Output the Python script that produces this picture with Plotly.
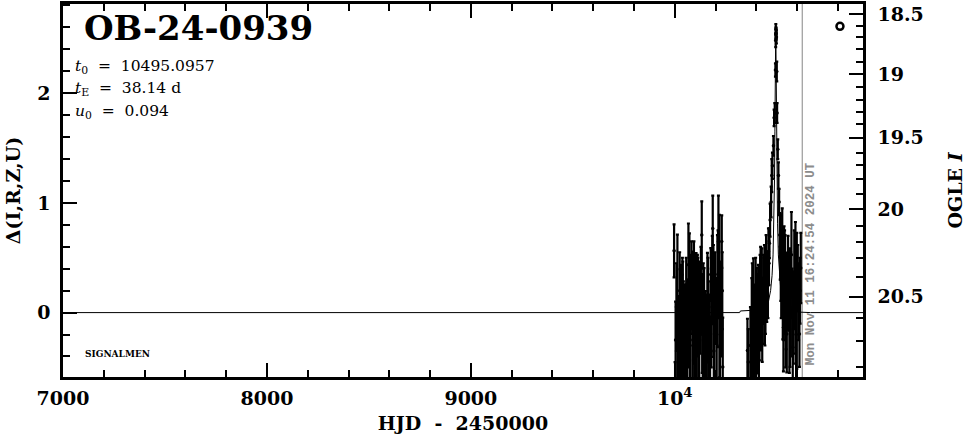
import plotly.graph_objects as go

# ---------------- data ----------------
event_name = "OB-24-0939"
t0_text = "10495.0957"
tE_text = "38.14 d"
u0_text = "0.094"
now_hjd = 10625.2
now_text = "Mon Nov 11 16:24:54 2024 UT"

# observations: HJD-2450000, Delta flux, error  (season 2023)
obs1_t = [9996.6, 10001.5, 10004.0, 10008.0, 10012.9, 10017.0, 10021.0, 10024.0, 10026.0,
          10029.3, 10031.0, 10033.5, 10035.8, 10037.5, 10039.1, 10042.3, 10045.6, 10048.0,
          10050.5, 10053.8, 10056.0, 10058.7, 10062.0, 10066.9, 10069.0, 10071.8, 10075.0,
          10078.3, 10082.0, 10086.5, 10088.5, 10091.4, 10094.0, 10096.3, 10099.6, 10101.5,
          10104.5, 10107.5, 10111.0, 10113.5, 10116.0, 10120.0, 10124.1, 10128.0, 10132.3,
          10134.5, 10137.2, 10140.0, 10143.7, 10147.0, 10150.3, 10153.0, 10156.8, 10160.1,
          10162.5, 10165.0, 10167.5, 10169.9, 10173.1, 10176.4, 10179.0, 10181.3, 10184.0,
          10186.2, 10189.5, 10191.5, 10194.4, 10197.0, 10202.6, 10205.5, 10209.1, 10212.0,
          10214.0, 10218.9, 10222.0, 10225.5, 10228.0, 10230.4, 10233.0, 10235.3]
obs1_d = [0.563, -0.735, -0.25, 0.05, -0.06, -0.3, -0.48, 0.2, -0.075,
          -0.346, 0.106, -0.4, -0.195, 0.05, 0.166, -0.226, -0.346, -0.15,
          -0.045, -0.195, 0.1, -0.375, -0.2, 0.437, -0.1, 0.256, -0.3,
          0.166, 0.25, -0.075, -0.25, -0.045, 0.3, 0.015, -0.316, 0.0,
          0.166, -0.2, 0.286, 0.05, -0.195, -0.3, 0.045, 0.2, 0.707,
          -0.1, -0.195, 0.1, -0.105, -0.375, -0.075, -0.35, -0.226, 0.045,
          0.1, -0.195, -0.3, -0.135, -0.436, 0.347, -0.05, 0.241, 0.3,
          0.767, 0.106, -0.35, -0.195, 0.15, 0.015, -0.2, 0.196, 0.35,
          0.647, 0.15, -0.3, 0.166, 0.0, 0.647, 0.2, -0.496]
obs1_e = [0.241, 0.284, 0.35, 0.4, 0.77, 0.45, 0.2, 0.35, 0.47,
          0.4, 0.33, 0.3, 0.54, 0.45, 0.3, 0.51, 0.44, 0.35,
          0.3, 0.45, 0.4, 0.36, 0.5, 0.375, 0.4, 0.466, 0.35,
          0.36, 0.4, 0.63, 0.4, 0.39, 0.35, 0.48, 0.35, 0.5,
          0.376, 0.4, 0.24, 0.45, 0.42, 0.4, 0.42, 0.4, 0.307,
          0.45, 0.42, 0.35, 0.51, 0.35, 0.27, 0.4, 0.39, 0.5,
          0.4, 0.48, 0.35, 0.3, 0.4, 0.24, 0.45, 0.346, 0.4,
          0.3, 0.51, 0.4, 0.57, 0.4, 0.3, 0.4, 0.51, 0.4,
          0.42, 0.74, 0.45, 0.3, 0.4, 0.24, 0.35, 0.45]

# season 2024
obs2_t = [10356.3, 10360.5, 10371.0, 10377.5, 10380.0, 10382.4, 10385.7, 10388.0, 10390.6,
          10393.9, 10396.5, 10398.8, 10402.1, 10404.5, 10407.0, 10410.2, 10412.5, 10415.1,
          10418.4, 10420.8, 10423.3, 10426.6, 10428.9, 10431.5, 10434.8, 10437.0, 10439.7,
          10442.0, 10444.6, 10447.8, 10449.5, 10451.1, 10454.4, 10456.8, 10459.3, 10462.0,
          10464.2, 10467.5, 10472.4, 10475.6, 10478.9, 10483.8, 10487.1, 10490.3, 10493.6,
          10494.8, 10495.5, 10496.2, 10496.9, 10498.5, 10500.2, 10501.8, 10505.1, 10508.3,
          10511.6, 10514.9, 10517.0, 10519.8, 10522.0, 10524.7, 10527.0, 10529.6, 10532.8,
          10534.5, 10536.1, 10538.5, 10541.0, 10543.5, 10545.9, 10549.2, 10552.5, 10555.5,
          10559.0, 10562.0, 10565.5, 10568.5, 10572.1, 10575.5, 10578.6, 10581.9, 10586.0,
          10591.7, 10595.0, 10598.3, 10603.2, 10607.0, 10611.3, 10614.5, 10617.9]
obs2_d = [-0.346, -0.45, -0.3, -0.135, 0.05, -0.375, 0.045, -0.25, -0.195,
          -0.12, 0.15, -0.316, -0.075, -0.05, -0.195, 0.045, -0.3, -0.135,
          0.166, 0.3, -0.015, 0.196, -0.1, 0.015, 0.316, 0.2, 0.256,
          0.0, 0.106, 0.437, 0.3, 0.166, 0.406, 0.25, 0.557, 0.45,
          0.632, 0.843, 1.008, 1.249, 1.339, 1.52, 1.775, 1.82, 2.211,
          2.48, 2.58, 2.55, 2.542, 2.513, 2.197, 1.82, 1.489, 1.249,
          1.008, 0.707, 0.6, 0.496, 0.3, 0.527, 0.65, 0.256, -0.135,
          0.1, 0.527, 0.35, 0.256, -0.1, 0.106, -0.195, 0.166, 0.35,
          0.106, -0.15, 0.045, 0.25, 0.527, 0.0, -0.316, -0.045, 0.3,
          0.226, -0.2, 0.106, 0.316, 0.1, -0.195, 0.2, 0.406]
obs2_e = [0.29, 0.3, 0.35, 0.45, 0.4, 0.35, 0.45, 0.35, 0.4,
          0.376, 0.35, 0.3, 0.48, 0.4, 0.35, 0.39, 0.3, 0.3,
          0.36, 0.3, 0.33, 0.39, 0.35, 0.3, 0.21, 0.3, 0.36,
          0.3, 0.3, 0.27, 0.25, 0.25, 0.15, 0.3, 0.21, 0.2,
          0.135, 0.15, 0.14, 0.15, 0.12, 0.09, 0.075, 0.09, 0.06,
          0.06, 0.05, 0.05, 0.05, 0.06, 0.09, 0.09, 0.09, 0.12,
          0.12, 0.2, 0.3, 0.39, 0.35, 0.226, 0.3, 0.5, 0.4,
          0.35, 0.26, 0.4, 0.45, 0.4, 0.44, 0.35, 0.32, 0.35,
          0.27, 0.4, 0.54, 0.3, 0.39, 0.4, 0.35, 0.42, 0.45,
          0.6, 0.4, 0.62, 0.3, 0.35, 0.3, 0.3, 0.32]

obs_t = obs1_t + obs2_t
obs_d = obs1_d + obs2_d
obs_e = obs1_e + obs2_e

# model curve
model_t = [7000, 10318, 10322, 10360, 10385, 10420, 10445, 10460, 10470, 10477, 10482,
           10486, 10489, 10491, 10493, 10495.1, 10497, 10499, 10501, 10504, 10508,
           10513, 10520, 10530, 10545, 10570, 10605, 10665, 10923]
model_d = [0.0, 0.0, 0.015, 0.018, 0.02, 0.025, 0.05, 0.108, 0.201, 0.337, 0.526,
           0.815, 1.216, 1.654, 2.239, 2.6, 2.239, 1.654, 1.216, 0.815, 0.526,
           0.337, 0.201, 0.108, 0.05, 0.017, 0.005, 0.0, 0.0]

# open-circle symbol in upper right
sym_t = [10810]
sym_d = [2.61]

# axes
x_range = [7000, 10923]
y_range = [-0.587, 2.813]
x_tickvals = [7000, 8000, 9000, 10000]
x_ticktext = ["7000", "8000", "9000", "10<sup>4</sup>"]
y_tickvals = [0, 1, 2]
y_ticktext = ["0", "1", "2"]
ogle_major_mag = ["18.5", "19", "19.5", "20", "20.5"]
ogle_major_delta = [2.723, 2.172, 1.595, 0.945, 0.144]
ogle_minor_delta = [2.617, 2.513, 2.401, 2.287, 2.061, 1.940, 1.829, 1.715, 1.459,
                    1.342, 1.216, 1.083, 0.792, 0.648, 0.494, 0.322, -0.045, -0.262, -0.496]

# ---------------- figure ----------------
SERIF = "DejaVu Serif"
tickfont = dict(family=SERIF, size=19, color="black", weight="bold")
titlefont = dict(family=SERIF, size=19, color="black", weight="bold")

fig = go.Figure()

fig.add_trace(go.Scatter(
    x=model_t, y=model_d, mode="lines",
    line=dict(color="black", width=1), hoverinfo="skip", showlegend=False))

fig.add_trace(go.Scatter(
    x=obs_t, y=obs_d, mode="markers",
    marker=dict(color="black", size=3.5),
    error_y=dict(type="data", array=obs_e, visible=True, color="black",
                 thickness=2.2, width=1.5),
    showlegend=False))

fig.add_trace(go.Scatter(
    x=sym_t, y=sym_d, mode="markers",
    marker=dict(symbol="circle-open", size=7, color="black", line=dict(width=2.5)),
    showlegend=False))

# invisible traces to activate overlay axes
fig.add_trace(go.Scatter(x=[x_range[0]], y=[y_range[0]], yaxis="y2", mode="markers",
                         marker=dict(opacity=0), showlegend=False, hoverinfo="skip"))
fig.add_trace(go.Scatter(x=[x_range[0]], y=[y_range[0]], yaxis="y3", mode="markers",
                         marker=dict(opacity=0), showlegend=False, hoverinfo="skip"))

fig.add_shape(type="line", xref="x", yref="paper", x0=now_hjd, x1=now_hjd, y0=0, y1=1,
              line=dict(color="#9a9a9a", width=1.2), layer="below")

line_w = 2.5
fig.update_layout(
    width=966, height=434,
    margin=dict(l=63, r=103, t=1, b=57),
    paper_bgcolor="white", plot_bgcolor="white",
    showlegend=False,
    xaxis=dict(
        range=x_range, tickmode="array", tickvals=x_tickvals, ticktext=x_ticktext,
        ticks="inside", ticklen=14, tickwidth=2, tickcolor="black",
        minor=dict(tickmode="linear", tick0=7000, dtick=200, ticks="inside",
                   ticklen=7, tickwidth=2, tickcolor="black"),
        showline=True, linewidth=line_w, linecolor="black", mirror="ticks",
        showgrid=False, zeroline=False, tickfont=tickfont, ticklabelstandoff=2,
        title=dict(text="HJD  -  2450000", font=titlefont, standoff=11),
    ),
    yaxis=dict(
        range=y_range, tickmode="array", tickvals=y_tickvals, ticktext=y_ticktext,
        ticks="inside", ticklen=14, tickwidth=2, tickcolor="black",
        minor=dict(tickmode="linear", tick0=0, dtick=0.2, ticks="inside",
                   ticklen=7, tickwidth=2, tickcolor="black"),
        showline=True, linewidth=line_w, linecolor="black", mirror=False,
        showgrid=False, zeroline=False, tickfont=tickfont, ticklabelstandoff=6,
        title=dict(text="Δ(I,R,Z,U)", font=titlefont, standoff=12),
    ),
    yaxis2=dict(
        overlaying="y", side="right", range=y_range,
        tickmode="array", tickvals=ogle_major_delta, ticktext=ogle_major_mag,
        ticks="inside", ticklen=14, tickwidth=2, tickcolor="black",
        showline=True, linewidth=line_w, linecolor="black",
        showgrid=False, zeroline=False, tickfont=tickfont, ticklabelstandoff=8,
        title=dict(text="OGLE <i>I</i>", font=titlefont, standoff=26),
    ),
    yaxis3=dict(
        overlaying="y", side="right", range=y_range,
        tickmode="array", tickvals=ogle_minor_delta,
        ticks="inside", ticklen=7, tickwidth=2, tickcolor="black",
        showline=False, showticklabels=False,
        showgrid=False, zeroline=False,
    ),
)

pfont = dict(family=SERIF, size=15.5, color="black")
annots = [
    dict(text=event_name, x=0.024, y=0.935, xanchor="left", yanchor="middle",
         font=dict(family=SERIF, size=34, color="black", weight="bold")),
    dict(text="<i>t</i><sub>0</sub>\u00a0 =\u00a0 " + t0_text, x=0.012, y=0.832,
         xanchor="left", yanchor="middle", font=pfont),
    dict(text="<i>t</i><sub>E</sub>\u00a0 =\u00a0 " + tE_text, x=0.012, y=0.771,
         xanchor="left", yanchor="middle", font=pfont),
    dict(text="<i>u</i><sub>0</sub>\u00a0 =\u00a0 " + u0_text, x=0.012, y=0.710,
         xanchor="left", yanchor="middle", font=pfont),
    dict(text="SIGNALMEN", x=0.025, y=0.061, xanchor="left", yanchor="middle",
         font=dict(family=SERIF, size=9, color="black", weight="bold")),
]
for a in annots:
    fig.add_annotation(xref="paper", yref="paper", showarrow=False, **a)

fig.add_annotation(
    text=now_text, xref="x", yref="paper", x=now_hjd, y=0.303, xshift=9,
    textangle=-90, showarrow=False, xanchor="center", yanchor="middle",
    font=dict(family="Liberation Mono", size=12.5, color="#8c8c8c", weight="bold"))

fig.write_html(
    "out.html",
    config={"displayModeBar": False},
    post_script="document.body.style.margin='0';document.body.style.padding='0';",
)
